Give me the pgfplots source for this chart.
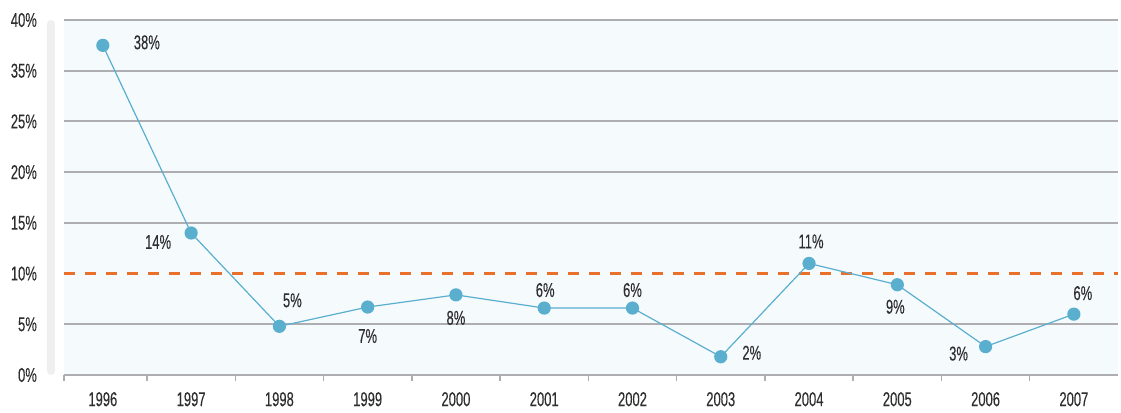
\documentclass[border=0pt]{standalone}
\usepackage{pgfplots}
\pgfplotsset{compat=1.18}
\usepackage{pgfplotstable}
\usepackage{fontspec}
\setmainfont{Liberation Sans}[FakeStretch=0.65, FakeBold=0.25]
\definecolor{linecol}{HTML}{5AAFCF}
\definecolor{bgblue}{HTML}{F5FAFD}
\definecolor{gridcol}{HTML}{ADADB2}
\definecolor{dashcol}{HTML}{E8702A}
\definecolor{txt}{HTML}{2E2E2E}
\definecolor{barcol}{HTML}{EFEFEF}

\pgfplotstableread{
x y lab dx dy
0 37.5 38 44 3
1 14.0 14 -33 -9
2 4.8 5 13 26
3 6.7 7 0 -29
4 7.9 8 0 -23
5 6.6 6 1 18
6 6.6 6 0 18
7 1.8 2 31 4
8 11.0 11 2 22
9 8.9 9 -2 -22
10 2.8 3 -27 -7
11 6.0 6 9 21
}\data

\begin{document}
\fontsize{20}{22}\selectfont
\begin{tikzpicture}
\begin{axis}[
  scale only axis,
  width=1054pt, height=355pt,
  xmin=-0.44, xmax=11.5,
  ymin=0, ymax=40,
  y coord trafo/.code={\pgfmathparse{#1>30?#1-5:#1}},
  y coord inv trafo/.code={\pgfmathparse{#1>25?#1+5:#1}},
  ytick={0,5,10,15,20,25,35,40},
  yticklabels={0\%,5\%,10\%,15\%,20\%,25\%,35\%,40\%},
  xtick={0,...,11},
  xticklabels={1996,1997,1998,1999,2000,2001,2002,2003,2004,2005,2006,2007},
  minor xtick={-0.44,0.5,1.5,2.5,3.5,4.5,5.5,6.5,7.5,8.5,9.5,10.5},
  axis x line*=bottom,
  axis y line*=left,
  y axis line style={draw=none},
  x axis line style={gridcol, line width=2pt, -},
  major x tick style={draw=none},
  major y tick style={draw=none},
  minor x tick style={gridcol, line width=1.5pt},
  minor tick length=6pt,
  tick align=outside,
  ymajorgrids,
  grid style={gridcol, line width=2pt},
  axis background/.style={fill=bgblue},
  tick label style={font=\fontsize{20}{22}\selectfont, text=txt},
  yticklabel style={xshift=-16pt},
  xticklabel style={yshift=-6pt},
  /pgf/number format/assume math mode=true,
  clip=false,
]
\fill[barcol, rounded corners=4pt] ([xshift=-17pt]rel axis cs:0,0) rectangle ([xshift=-9pt]rel axis cs:0,1);
\addplot[bgblue, line width=3pt, forget plot] coordinates {(-0.44,10) (11.5,10)};
\addplot[dashcol, line width=3.5pt, dash pattern=on 11pt off 10pt, forget plot] coordinates {(-0.44,10) (11.5,10)};
\addplot[linecol, line width=1.2pt, mark=*, mark size=6pt,
  mark options={fill=linecol, draw=linecol},
  point meta=explicit,
  visualization depends on={\thisrow{dx}\as\mydx},
  visualization depends on={\thisrow{dy}\as\mydy},
  nodes near coords={\pgfmathprintnumber[assume math mode=true]{\pgfplotspointmeta}\%},
  every node near coord/.append style={font=\fontsize{20}{22}\selectfont, text=txt, anchor=center, xshift=\mydx pt, yshift=\mydy pt},
] table[x=x, y=y, meta=lab] {\data};
\end{axis}
\path (current axis.south west) ++(-64pt,-30pt) rectangle ([shift={(3pt,20pt)}]current axis.north east);
\end{tikzpicture}
\end{document}
